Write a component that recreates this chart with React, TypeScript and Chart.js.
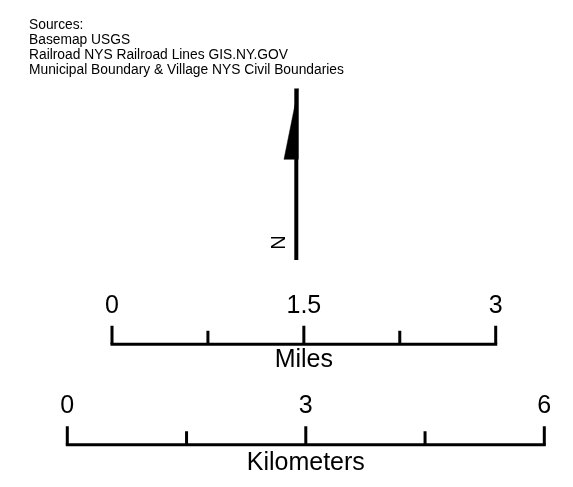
import React, { useEffect, useRef } from "react";
import { Chart, registerables } from "chart.js";

Chart.register(...registerables);

// ---- content ----
const sourceLines = [
  "Sources:",
  "Basemap USGS",
  "Railroad NYS Railroad Lines GIS.NY.GOV",
  "Municipal Boundary & Village NYS Civil Boundaries",
];

const milesTicks = [0, 0.75, 1.5, 2.25, 3];
const milesMajor = [0, 1.5, 3];
const milesLabels = ["0", "1.5", "3"];
const milesTitle = "Miles";

const kmTicks = [0, 1.5, 3, 4.5, 6];
const kmMajor = [0, 3, 6];
const kmLabels = ["0", "3", "6"];
const kmTitle = "Kilometers";

const northLabel = "N";

// ---- layout (pixels of the 573x487 page) ----
const W = 573;
const H = 487;
const MI_LEFT = 112;
const MI_RIGHT = 495.7;
const MI_MAX = 3;
const MI_BAR_Y = 344.3;
const KM_LEFT = 67.3;
const KM_RIGHT = 544.3;
const KM_MAX = 6;
const KM_BAR_Y = 444.7;
const MAJOR_H = 18.5;
const MINOR_H = 13.5;

// north arrow outline in page pixels
const arrowHeadX = [298.3, 284, 298.3, 298.3];
const arrowHeadY = [88.5, 159.3, 159.3, 88.5];
const shaftX = [296.3, 296.3];
const shaftY = [88.5, 260];

const FONT = "'Liberation Sans', Arial, sans-serif";

function unitScale(left: number, right: number, max: number) {
  const ppu = (right - left) / max;
  return { min: -left / ppu, max: (W - left) / ppu };
}

export default function App() {
  const ref = useRef<HTMLCanvasElement>(null);

  useEffect(() => {
    if (!ref.current) return;
    const mi = unitScale(MI_LEFT, MI_RIGHT, MI_MAX);
    const km = unitScale(KM_LEFT, KM_RIGHT, KM_MAX);

    const lineDs = (pts: { x: number; y: number }[], xAxisID: string, width: number, cap: CanvasLineCap = "butt") => ({
      data: pts,
      xAxisID,
      yAxisID: "y",
      showLine: true,
      borderColor: "#000",
      borderWidth: width,
      borderCapStyle: cap,
      pointRadius: 0,
      fill: false,
    });

    const datasets: any[] = [];
    // miles bar
    datasets.push(lineDs([{ x: 0, y: MI_BAR_Y }, { x: MI_MAX, y: MI_BAR_Y }], "xMi", 3, "square"));
    milesTicks.forEach((t) => {
      const h = milesMajor.includes(t) ? MAJOR_H : MINOR_H;
      datasets.push(lineDs([{ x: t, y: MI_BAR_Y - h }, { x: t, y: MI_BAR_Y }], "xMi", 3));
    });
    // km bar
    datasets.push(lineDs([{ x: 0, y: KM_BAR_Y }, { x: KM_MAX, y: KM_BAR_Y }], "xKm", 3, "square"));
    kmTicks.forEach((t) => {
      const h = kmMajor.includes(t) ? MAJOR_H : MINOR_H;
      datasets.push(lineDs([{ x: t, y: KM_BAR_Y - h }, { x: t, y: KM_BAR_Y }], "xKm", 3));
    });
    // north arrow shaft
    datasets.push(lineDs(shaftX.map((x, i) => ({ x, y: shaftY[i] })), "x", 4));
    // north arrow head
    datasets.push({
      data: arrowHeadX.map((x, i) => ({ x, y: arrowHeadY[i] })),
      xAxisID: "x",
      yAxisID: "y",
      showLine: true,
      borderColor: "#000",
      borderWidth: 0.5,
      backgroundColor: "#000",
      pointRadius: 0,
      fill: "shape",
      tension: 0,
    });

    const textPlugin = {
      id: "legendText",
      afterDatasetsDraw(chart: any) {
        const ctx = chart.ctx as CanvasRenderingContext2D;
        const sx = chart.scales;
        ctx.save();
        ctx.fillStyle = "#000";
        // sources
        ctx.font = `13.8px ${FONT}`;
        ctx.textAlign = "left";
        ctx.textBaseline = "alphabetic";
        sourceLines.forEach((s, i) => ctx.fillText(s, 29, 28.5 + i * 15.3));
        // miles labels
        ctx.font = `25px ${FONT}`;
        ctx.textAlign = "center";
        milesMajor.forEach((v, i) => {
          ctx.fillText(milesLabels[i], sx.xMi.getPixelForValue(v), sx.y.getPixelForValue(313.3));
        });
        ctx.fillText(milesTitle, sx.xMi.getPixelForValue(MI_MAX / 2), sx.y.getPixelForValue(367.3));
        kmMajor.forEach((v, i) => {
          ctx.fillText(kmLabels[i], sx.xKm.getPixelForValue(v), sx.y.getPixelForValue(413.3));
        });
        ctx.fillText(kmTitle, sx.xKm.getPixelForValue(KM_MAX / 2), sx.y.getPixelForValue(470));
        // N
        ctx.translate(sx.x.getPixelForValue(279.5), sx.y.getPixelForValue(242.5));
        ctx.rotate(-Math.PI / 2);
        ctx.font = `20px ${FONT}`;
        ctx.textBaseline = "middle";
        ctx.fillText(northLabel, 0, 0);
        ctx.restore();
      },
    };

    const chart = new Chart(ref.current, {
      type: "scatter",
      data: { datasets },
      options: {
        animation: false,
        responsive: false,
        devicePixelRatio: 1,
        layout: { padding: 0 },
        plugins: { legend: { display: false }, tooltip: { enabled: false }, title: { display: false } },
        events: [],
        scales: {
          x: { type: "linear", display: false, min: 0, max: W },
          xMi: { type: "linear", display: false, min: mi.min, max: mi.max },
          xKm: { type: "linear", display: false, min: km.min, max: km.max },
          y: { type: "linear", display: false, min: 0, max: H, reverse: true },
        },
      },
      plugins: [textPlugin],
    });
    return () => chart.destroy();
  }, []);

  return (
    <div style={{ position: "absolute", left: 0, top: 0, width: W, height: H, background: "#fff" }}>
      <canvas ref={ref} width={W} height={H} style={{ display: "block" }} />
    </div>
  );
}
